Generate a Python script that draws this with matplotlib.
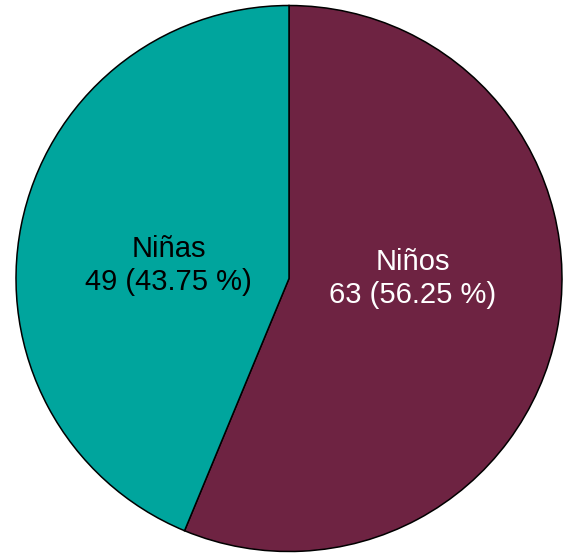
import numpy as np
import matplotlib
matplotlib.use("Agg")
import matplotlib.pyplot as plt

plt.rcParams['font.family'] = ['Liberation Sans', 'DejaVu Sans']

# datos
categorias = ['Niños', 'Niñas']
valores = [63, 49]
colores = ['#6E2342', '#00A59D']
colores_texto = ['white', 'black']

total = sum(valores)

fig = plt.figure(figsize=(5.65, 5.54), dpi=100)
ax = fig.add_axes([16 / 565, 2.5 / 554, 546 / 565, 546 / 554])

wedges, _ = ax.pie(valores, colors=colores, startangle=90, counterclock=False,
                   radius=1, wedgeprops=dict(edgecolor='black', linewidth=1.1))

# etiquetas dentro de cada sector
ajuste = [(0.012, 0.088), (0.0, -0.04)]
for w, cat, v, ct, (dx, dy) in zip(wedges, categorias, valores, colores_texto, ajuste):
    ang = np.deg2rad((w.theta1 + w.theta2) / 2)
    x = 0.45 * np.cos(ang) + dx
    y = 0.45 * np.sin(ang) + dy
    ax.text(x, y, f"{cat}\n{v} ({v / total * 100:.2f} %)", ha='center', va='center',
            fontsize=21, color=ct, linespacing=1.25)

ax.set_xlim(-1, 1)
ax.set_ylim(-1, 1)
ax.set_aspect('equal')
ax.axis('off')

fig.savefig("out.png", dpi=100)
